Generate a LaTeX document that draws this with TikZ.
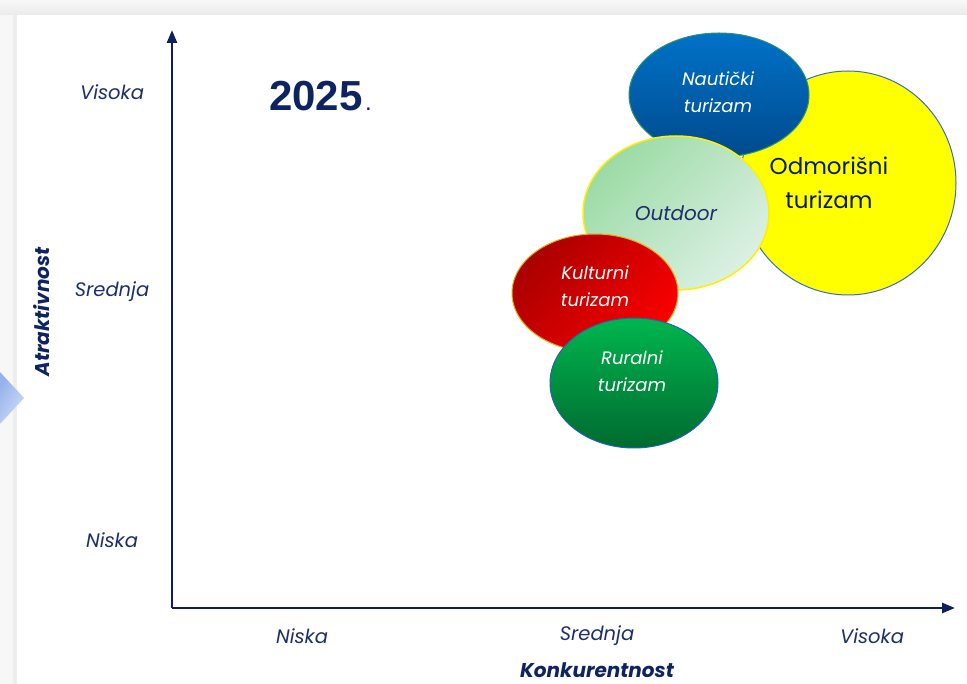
\documentclass[tikz,border=0pt]{standalone}
\usepackage{fontspec}
\setmainfont{Poppins}
\newfontfamily\arialfont{Liberation Sans}
\usetikzlibrary{shapes.geometric,arrows.meta}
\definecolor{navy}{HTML}{0E2462}
\definecolor{labelc}{HTML}{1F2F6E}
\definecolor{axisc}{HTML}{0D1F5C}
\begin{document}
\begin{tikzpicture}[x=1pt,y=-1pt,
  bub/.style={ellipse, inner sep=0pt, line width=1pt},
  ax/.style={axisc, line width=2.6pt, -{Triangle[length=13pt,width=10pt]}},
  lab/.style={labelc, font=\fontsize{19.5}{22}\selectfont\itshape},
  title/.style={navy, font=\fontsize{20}{22}\selectfont\bfseries\itshape},
  btext/.style={align=center, font=\fontsize{18}{27}\selectfont\itshape}]
\useasboundingbox (0,0) rectangle (967,684);
\fill[white] (0,0) rectangle (967,684);
% frame
\shade[top color=gray!6, bottom color=gray!16] (0,0) rectangle (967,15);
\fill[gray!6] (0,15) rectangle (13,684);
\fill[gray!14] (13,15) rectangle (17,684);
\shade[left color={rgb,255:red,150;green,178;blue,236}, right color={rgb,255:red,205;green,218;blue,248}, shading angle=60] (0,372) -- (24,398) -- (0,424) -- cycle;
% axes
\coordinate (o) at (172,608);
\coordinate (ytip) at (172,30);
\coordinate (xtip) at (955,608);
\draw[ax] (o) -- (ytip);
\draw[ax] (o) -- (xtip);
% axis labels
\node[lab] (yv) at (112,92) {Visoka};
\node[lab] (ys) at (112,292) {Srednja};
\node[lab] (yn) at (112,540) {Niska};
\node[lab] (xn) at (302,636) {Niska};
\node[lab] (xs) at (597,636) {Srednja};
\node[lab] (xv) at (872,636) {Visoka};
\node[title, rotate=90] (ya) at (42,312) {Atraktivnost};
\node[title] (xa) at (597,670) {Konkurentnost};
% year
\node[navy, inner sep=0pt, font=\arialfont\fontsize{42}{42}\selectfont\bfseries, anchor=base west] (yr) at (269,111) {2025};
\node[navy, inner sep=0pt, font=\arialfont\fontsize{24}{24}\selectfont, anchor=base west] (dot) at ([xshift=2pt]yr.base east) {.};
% bubbles
\node[bub, minimum width=216, minimum height=224, fill={rgb,255:red,255;green,255;blue,0}, draw={rgb,255:red,60;green,110;blue,190}] (odm) at (848,183) {};
\node[bub, minimum width=180, minimum height=124, top color={rgb,255:red,0;green,114;blue,200}, bottom color={rgb,255:red,0;green,74;blue,140}, draw={rgb,255:red,40;green,150;blue,110}] (nau) at (719,95) {};
\node[bub, minimum width=186, minimum height=154, top color={rgb,255:red,156;green,219;blue,165}, bottom color={rgb,255:red,220;green,240;blue,228}, shading angle=45, draw={rgb,255:red,255;green,240;blue,0}, line width=1.5pt] (out) at (676,213) {};
\node[bub, minimum width=166, minimum height=118, top color={rgb,255:red,170;green,0;blue,0}, bottom color={rgb,255:red,250;green,0;blue,0}, shading angle=50, draw={rgb,255:red,240;green,170;blue,0}] (kul) at (595,293) {};
\node[bub, minimum width=168, minimum height=130, top color={rgb,255:red,0;green,182;blue,78}, bottom color={rgb,255:red,0;green,106;blue,48}, draw={rgb,255:red,30;green,100;blue,180}] (rur) at (634,383) {};
% bubble texts
\node[btext, white] (tnau) at (718,92) {Nautički\\turizam};
\node[align=center, font=\fontsize{23}{34}\selectfont, text=navy!80!black] (todm) at (829,183) {Odmorišni\\turizam};
\node[font=\fontsize{20}{22}\selectfont\itshape, text=labelc] (tout) at (676,213) {Outdoor};
\node[btext, white] (tkul) at (595,286) {Kulturni\\turizam};
\node[btext, white] (trur) at (632,371) {Ruralni\\turizam};
\end{tikzpicture}
\end{document}
